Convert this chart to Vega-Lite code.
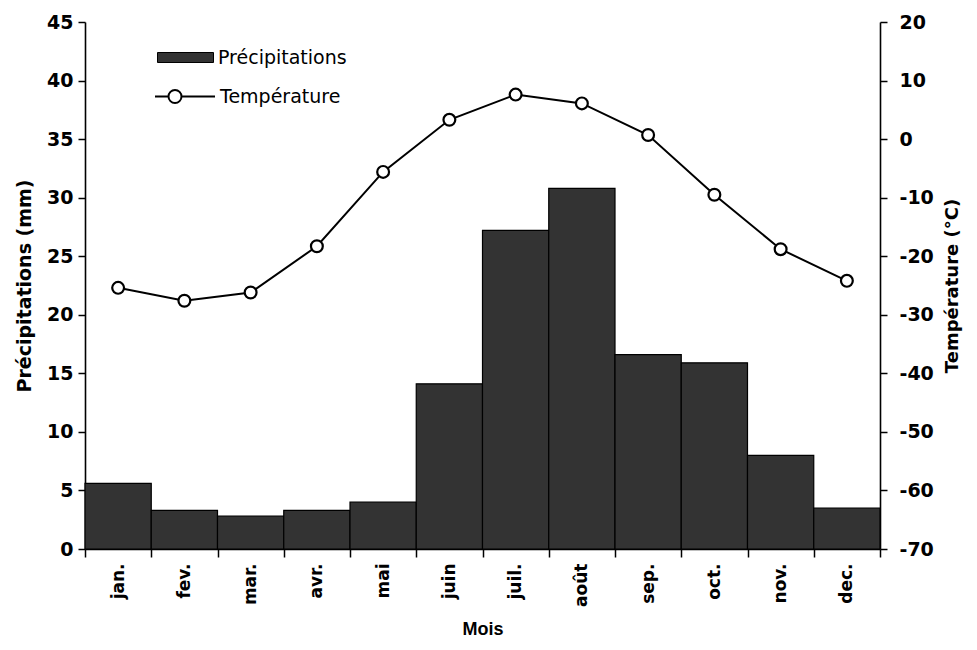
{
  "$schema": "https://vega.github.io/schema/vega-lite/v6.json",
  "width": 795,
  "height": 527,
  "autosize": {"type": "none"},
  "padding": {"left": 85, "top": 22, "right": 97, "bottom": 101},
  "background": "white",
  "config": {
    "view": {"stroke": null},
    "axis": {
      "grid": false,
      "domainColor": "black",
      "tickColor": "black",
      "labelColor": "black",
      "titleColor": "black",
      "labelFont": "DejaVu Sans",
      "titleFont": "DejaVu Sans",
      "labelFontWeight": "bold",
      "titleFontWeight": "bold",
      "domainWidth": 1.6,
      "tickWidth": 1.5
    },
    "legend": {
      "padding": 0,
      "labelFont": "DejaVu Sans",
      "labelFontSize": 19,
      "labelColor": "black",
      "labelFontWeight": "normal"
    }
  },
  "data": {
    "values": [
      {"mois": "jan.", "precipitations": 5.6, "temperature": -25.4},
      {"mois": "fev.", "precipitations": 3.3, "temperature": -27.6},
      {"mois": "mar.", "precipitations": 2.8, "temperature": -26.2},
      {"mois": "avr.", "precipitations": 3.3, "temperature": -18.3},
      {"mois": "mai", "precipitations": 4.0, "temperature": -5.6},
      {"mois": "juin", "precipitations": 14.1, "temperature": 3.3},
      {"mois": "juil.", "precipitations": 27.2, "temperature": 7.6},
      {"mois": "août", "precipitations": 30.8, "temperature": 6.1},
      {"mois": "sep.", "precipitations": 16.6, "temperature": 0.7},
      {"mois": "oct.", "precipitations": 15.9, "temperature": -9.5},
      {"mois": "nov.", "precipitations": 8.0, "temperature": -18.8},
      {"mois": "dec.", "precipitations": 3.5, "temperature": -24.2}
    ]
  },
  "layer": [
    {
      "mark": {"type": "bar", "stroke": "black", "strokeWidth": 1.2},
      "encoding": {
        "x": {
          "field": "mois", "type": "nominal", "sort": null,
          "scale": {"paddingInner": 0, "paddingOuter": 0},
          "axis": {
            "title": "Mois", "titleFont": "Liberation Sans", "titleFontSize": 18, "titlePadding": 14,
            "labelAngle": -90, "labelAlign": "right", "labelBaseline": "middle",
            "labelFontSize": 17, "labelPadding": 6, "tickBand": "extent", "tickSize": 8
          }
        },
        "y": {
          "field": "precipitations", "type": "quantitative",
          "scale": {"domain": [0, 45], "nice": false, "zero": true},
          "axis": {
            "title": "Précipitations (mm)", "titleFontSize": 19, "titlePadding": 12,
            "values": [0, 5, 10, 15, 20, 25, 30, 35, 40, 45],
            "labelFontSize": 19, "tickSize": 7, "labelPadding": 5
          }
        },
        "fill": {
          "datum": "Précipitations", "type": "nominal",
          "scale": {"range": ["#333333"]},
          "legend": {
            "title": null, "orient": "none", "legendX": 91, "legendY": 26,
            "symbolType": "M-5.6,-1H5.6V1H-5.6Z", "symbolSize": 100,
            "symbolStrokeColor": "black", "symbolStrokeWidth": 1, "labelOffset": 23
          }
        }
      }
    },
    {
      "mark": {
        "type": "line", "strokeWidth": 2,
        "point": {"filled": true, "fill": "white", "stroke": "black", "strokeWidth": 2.2, "size": 140, "opacity": 1}
      },
      "encoding": {
        "x": {
          "field": "mois", "type": "nominal", "sort": null,
          "scale": {"paddingInner": 0, "paddingOuter": 0},
          "axis": {
            "title": "Mois", "titleFont": "Liberation Sans", "titleFontSize": 18, "titlePadding": 14,
            "labelAngle": -90, "labelAlign": "right", "labelBaseline": "middle",
            "labelFontSize": 17, "labelPadding": 6, "tickBand": "extent", "tickSize": 8
          }
        },
        "y": {
          "field": "temperature", "type": "quantitative",
          "scale": {"domain": [-70, 20], "nice": false, "zero": false},
          "axis": {
            "orient": "right", "title": "Température (°C)", "titleFontSize": 18, "titleAngle": 270,
            "titleBaseline": "top", "titlePadding": 10,
            "values": [-70, -60, -50, -40, -30, -20, -10, 0, 10, 20],
            "labelExpr": "replace(datum.label, '−', '-')",
            "labelFontSize": 19, "tickSize": 7, "labelPadding": 12
          }
        },
        "stroke": {
          "datum": "Température", "type": "nominal",
          "scale": {"range": ["black"]},
          "legend": {
            "title": null, "orient": "none", "legendX": 91, "legendY": 65,
            "symbolType": "M-6.1,0H-3.4M-0.8,0H5.9M-3.4,0A1.3,1.3 0 1,0 -0.8,0A1.3,1.3 0 1,0 -3.4,0",
            "symbolSize": 100, "symbolFillColor": "white", "symbolStrokeWidth": 2, "labelOffset": 25
          }
        }
      }
    }
  ],
  "resolve": {"scale": {"y": "independent"}}
}
